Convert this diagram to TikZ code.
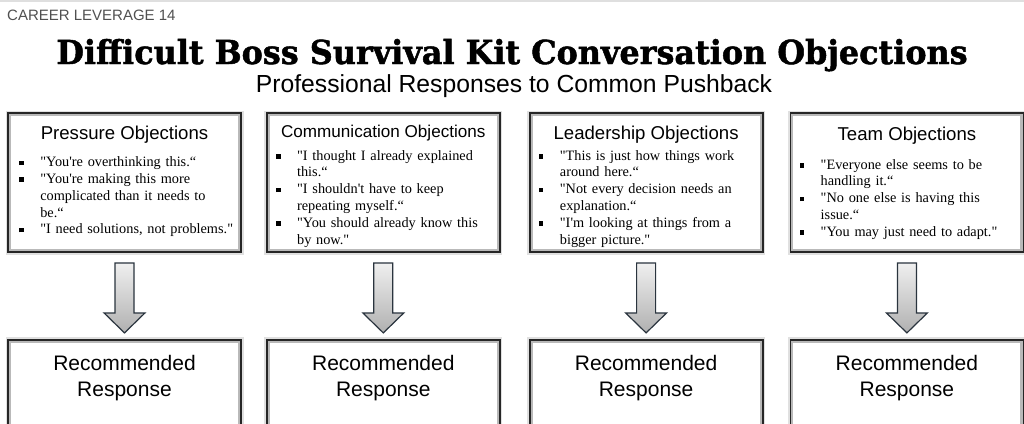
\documentclass[tikz,border=0pt]{standalone}
\usepackage{fontspec}
\setmainfont{Liberation Serif}
\newfontfamily\headfont{Liberation Sans}
\newfontfamily\bodyfont{Liberation Serif}
\newfontfamily\titlefont{DejaVu Serif}[FakeStretch=0.965, FakeBold=1.4]
\usepackage{xcolor}
\usetikzlibrary{positioning, calc}

\definecolor{arrowline}{RGB}{42,52,62}
\definecolor{tagtext}{RGB}{80,80,80}

% one bullet of a list, broken by hand
\newcommand{\objitem}[1]{\par\noindent\hangindent=21pt\hangafter=1%
  \makebox[21pt][l]{\rule[1.5pt]{4.5pt}{4.5pt}}\strut#1\par}

\begin{document}
\begin{tikzpicture}[
    x=1pt, y=-1pt,
    node distance=10pt and 26pt,
    objbox/.style={rectangle, draw=black!85, line width=1.8pt, fill=white, minimum width=233pt, minimum height=139pt, inner sep=0pt,
      preaction={draw=black!12, line width=5pt},
      path picture={\draw[gray!55, line width=6pt] (path picture bounding box.south west) rectangle (path picture bounding box.north east);}},
    respbox/.style={objbox, minimum height=120pt},
    headtext/.style={font=\headfont\fontsize{18.6}{22}\selectfont, inner sep=0pt, anchor=base},
    listtext/.style={font=\bodyfont\fontsize{14.3}{16.8}\selectfont, text width=222pt, align=left, inner sep=0pt, anchor=north west},
    resptext/.style={font=\headfont\fontsize{21}{26}\selectfont, align=center, inner sep=0pt},
    blockarrow/.style={draw=arrowline, line width=1.2pt, top color=gray!12, bottom color=gray!62, line join=miter}
  ]
  \useasboundingbox (0,0) rectangle (1024,423);
  \draw[gray!25, line width=2pt] (0,1) -- (1024,1);

  % Titles
  \node[anchor=base west, inner sep=0pt, text=tagtext, font=\headfont\fontsize{15}{18}\selectfont] (tag) at (7,20) {CAREER LEVERAGE 14};
  \node[anchor=base, inner sep=0pt, font=\titlefont\bfseries\fontsize{33}{38}\selectfont] (title) at (512,64) {Difficult Boss Survival Kit Conversation Objections};
  \node[anchor=base, inner sep=0pt, font=\headfont\fontsize{24.7}{28}\selectfont] (subtitle) at ($(title.base)+(2,28)$) {Professional Responses to Common Pushback};

  % Objection boxes
  \node[objbox] (pbox) at (124.5,182.5) {};
  \node[objbox, right=24pt of pbox] (cbox) {};
  \node[objbox, right=28pt of cbox] (lbox) {};
  \node[objbox, right=26pt of lbox] (tbox) {};

  \node[headtext] (phead) at ($(pbox.north)+(0,27)$) {Pressure Objections};
  \node[headtext, font=\headfont\fontsize{17.1}{20}\selectfont] (chead) at ($(cbox.north)+(0,25)$) {Communication Objections};
  \node[headtext] (lhead) at ($(lbox.north)+(0,27)$) {Leadership Objections};
  \node[headtext] (thead) at ($(tbox.north)+(0,28)$) {Team Objections};

  \node[listtext] (plist) at ($(pbox.north west)+(12,37.5)$) {%
    \objitem{"You're overthinking this.“}
    \objitem{"You're making this more\newline complicated than it needs to\newline be.“}
    \objitem{"I need solutions, not problems."}};
  \node[listtext] (clist) at ($(cbox.north west)+(10,31)$) {%
    \objitem{"I thought I already explained\newline this.“}
    \objitem{"I shouldn't have to keep\newline repeating myself.“}
    \objitem{"You should already know this\newline by now."}};
  \node[listtext] (llist) at ($(lbox.north west)+(10,31)$) {%
    \objitem{"This is just how things work\newline around here.“}
    \objitem{"Not every decision needs an\newline explanation.“}
    \objitem{"I'm looking at things from a\newline bigger picture."}};
  \node[listtext] (tlist) at ($(tbox.north west)+(10,40)$) {%
    \objitem{"Everyone else seems to be\newline handling it.“}
    \objitem{"No one else is having this\newline issue.“}
    \objitem{"You may just need to adapt."}};

  % Response boxes
  \node[respbox, below=86pt of pbox] (presp) {};
  \node[respbox, below=86pt of cbox] (cresp) {};
  \node[respbox, below=86pt of lbox] (lresp) {};
  \node[respbox, below=86pt of tbox] (tresp) {};

  \foreach \r in {presp, cresp, lresp, tresp}
    \node[resptext, below=16pt of \r.north] (\r text) {Recommended\\Response};

  % Block arrows
  \foreach \b/\r in {pbox/presp, cbox/cresp, lbox/lresp, tbox/tresp}
    \draw[blockarrow] ($(\b.south)+(-9.5,10)$) -- ($(\b.south)+(9.5,10)$) -- ($(\b.south)+(9.5,60)$)
      -- ($(\b.south)+(20.5,60)$) -- ($(\r.north)+(0,-6)$) -- ($(\b.south)+(-20.5,60)$)
      -- ($(\b.south)+(-9.5,60)$) -- cycle;

\end{tikzpicture}
\end{document}
